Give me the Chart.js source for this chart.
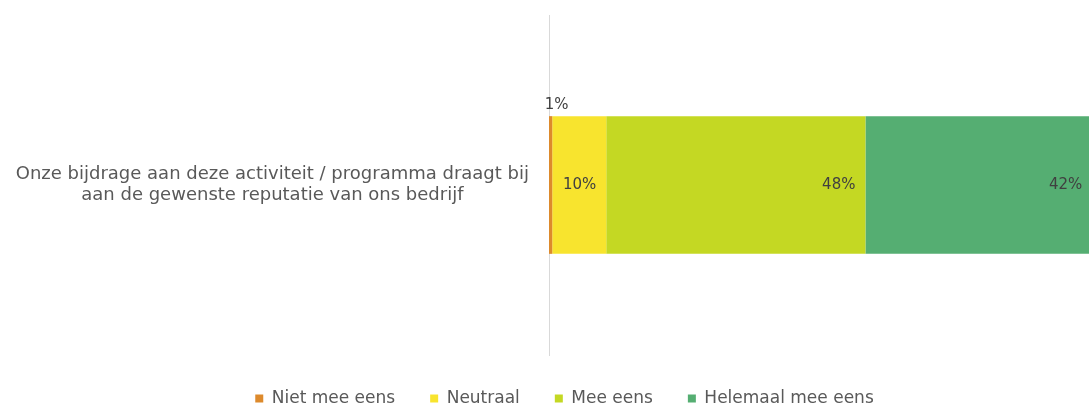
<!DOCTYPE html>
<html>
<head>
<meta charset="utf-8">
<script src="https://cdn.jsdelivr.net/npm/chart.js@4/dist/chart.umd.min.js"></script>
<style>
  html, body { margin: 0; padding: 0; background: #fff; overflow: hidden; }
  #wrap { width: 1089px; height: 406px; }
</style>
</head>
<body>
<div id="wrap"><canvas id="chart"></canvas></div>
<script>
const categories = [['Onze bijdrage aan deze activiteit / programma draagt bij', 'aan de gewenste reputatie van ons bedrijf']];
const seriesNames = ['Niet mee eens', 'Neutraal', 'Mee eens', 'Helemaal mee eens'];
const nietMeeEens = [0.6];
const neutraal = [10];
const meeEens = [48];
const helemaalMeeEens = [42];
const seriesColors = ['#DD8A2C', '#F8E42E', '#C4D823', '#55AE72'];

const FONT = "'DejaVu Sans', sans-serif";

// labels drawn at the inside end of each segment, tiny ones above the bar
const segmentLabels = {
    id: 'segmentLabels',
    afterDatasetsDraw(chart) {
        const ctx = chart.ctx;
        ctx.save();
        ctx.font = '15px ' + FONT;
        ctx.fillStyle = '#404040';
        ctx.textBaseline = 'middle';
        chart.data.datasets.forEach((ds, i) => {
            const meta = chart.getDatasetMeta(i);
            meta.data.forEach((bar, j) => {
                const v = ds.data[j];
                const txt = Math.round(v) + '%';
                if (v < 3) {
                    ctx.textAlign = 'center';
                    ctx.fillText(txt, (bar.x + bar.base) / 2 + 6, bar.y - bar.height / 2 - 11);
                } else {
                    ctx.textAlign = 'right';
                    ctx.fillText(txt, bar.x - 10, bar.y);
                }
            });
        });
        ctx.restore();
    }
};

// legend sits a bit right of the canvas centre in the original
const legendShift = {
    id: 'legendShift',
    afterLayout(chart) {
        if (chart.legend) {
            chart.legend.left += 40;
        }
    }
};

const data = [nietMeeEens, neutraal, meeEens, helemaalMeeEens];

new Chart(document.getElementById('chart'), {
    type: 'bar',
    data: {
        labels: categories,
        datasets: seriesNames.map((name, i) => ({
            label: name,
            data: data[i],
            backgroundColor: seriesColors[i],
            borderWidth: 0,
            categoryPercentage: 1,
            barPercentage: 0.405
        }))
    },
    options: {
        responsive: true,
        maintainAspectRatio: false,
        animation: false,
        indexAxis: 'y',
        layout: {
            padding: { top: 15, right: 0, bottom: 0, left: 0 }
        },
        plugins: {
            legend: {
                position: 'bottom',
                maxHeight: 51,
                labels: {
                    boxWidth: 8,
                    boxHeight: 8,
                    padding: 35,
                    color: '#595959',
                    font: { family: FONT, size: 17 }
                }
            },
            tooltip: { enabled: false }
        },
        scales: {
            x: {
                stacked: true,
                min: 0,
                max: 100,
                display: false,
                grid: { display: false }
            },
            y: {
                stacked: true,
                grid: { display: false, drawTicks: false },
                border: { display: true, color: '#D9D9D9', width: 1 },
                ticks: {
                    crossAlign: 'center',
                    padding: 20,
                    color: '#595959',
                    font: { family: FONT, size: 18 }
                },
                afterFit(scale) {
                    scale.width = 549;
                    scale.paddingTop = 0;
                    scale.paddingBottom = 0;
                }
            }
        }
    },
    plugins: [segmentLabels, legendShift]
});
</script>
</body>
</html>
